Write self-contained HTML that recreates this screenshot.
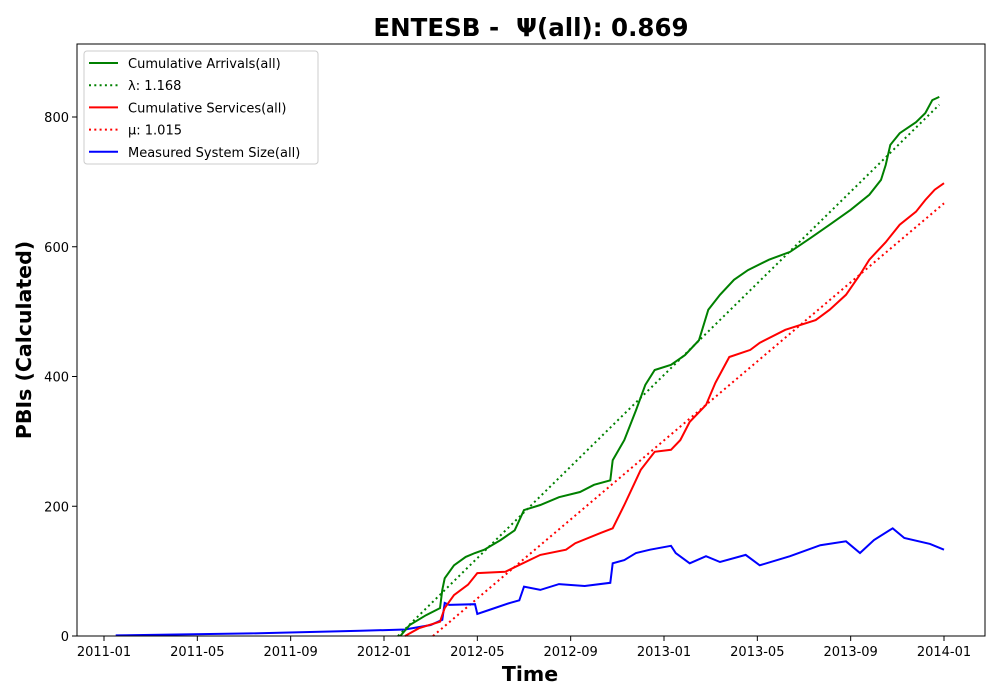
<!DOCTYPE html>
<html><head><meta charset="utf-8"><style>
html,body{margin:0;padding:0;background:#fff;}
svg{display:block;font-family:"DejaVu Sans","Liberation Sans",sans-serif;}
</style></head><body>
<svg id="chart" width="1000" height="700">
<text x="531" y="36" text-anchor="middle" font-size="24.5" font-weight="bold">ENTESB -&#160; Ψ(all): 0.869</text>
<g id="plot"></g>
<rect x="77" y="44" width="908" height="592" fill="none" stroke="#000" stroke-width="1"/>
<g id="axes"></g>
<text x="530" y="681" text-anchor="middle" font-size="20.5" font-weight="bold">Time</text>
<text transform="translate(31,340) rotate(-90)" text-anchor="middle" font-size="20.5" font-weight="bold">PBIs (Calculated)</text>
<g id="legend">
<rect x="84" y="51" width="234" height="113" rx="3" fill="#fff" fill-opacity="0.8" stroke="#ccc"/>
</g>
</svg>
<script>
// months since 2011-01
const xTickLabels = ["2011-01","2011-05","2011-09","2012-01","2012-05","2012-09","2013-01","2013-05","2013-09","2014-01"];
const xTickMonths = [0,4,8,12,16,20,24,28,32,36];
const yTicks = [0,200,400,600,800];
const arrM = [12.7,13.1,13.8,14.4,14.5,14.6,15.0,15.5,15.9,16.3,17.0,17.6,18.0,18.7,19.5,20.4,21.0,21.7,21.8,22.3,22.8,23.2,23.6,24.3,24.9,25.5,25.9,26.4,27.0,27.6,28.5,29.4,30.3,31.1,32.0,32.8,33.3,33.5,33.7,34.1,34.8,35.2,35.5,35.8];
const arrV = [0,17,32,43,71,89,109,122,128,133,148,163,194,202,214,222,233,240,271,302,348,387,410,418,433,456,503,526,549,564,580,592,614,634,657,680,703,726,757,775,792,806,826,831];
const srvM = [12.9,13.5,14.4,14.6,15.0,15.6,16.0,17.2,17.6,18.7,19.8,20.2,21.3,21.8,22.3,23.0,23.6,24.3,24.7,25.1,25.8,26.2,26.8,27.7,28.1,29.2,30.5,31.1,31.8,32.4,32.8,33.5,34.1,34.8,35.2,35.6,36.0];
const srvV = [0,12,22,43,63,79,97,99,106,125,133,143,159,166,202,256,284,287,302,330,356,390,430,441,452,472,487,503,526,557,580,607,634,654,672,688,698];
const sysM = [0.5,6.3,11.0,12.9,14.0,14.5,14.6,14.8,15.9,16.0,16.5,17.4,17.8,18.0,18.7,19.5,20.6,21.7,21.8,22.3,22.8,23.4,24.3,24.5,25.1,25.8,26.4,27.5,28.1,29.4,30.7,31.8,32.4,33.0,33.8,34.3,35.4,36.0];
const sysV = [1,4,8,10,17,25,51,48,49,34,40,51,55,76,71,80,77,82,112,117,128,133,139,128,112,123,114,125,109,123,140,146,128,148,166,151,142,133];
const lambdaM = [12.6,35.8];
const lambdaV = [0,819];
const muM = [14.1,36.0];
const muV = [0,667];

const NS="http://www.w3.org/2000/svg";
const X = m => 104 + m*(840/36);
const Y = v => 636 - v*(519/800);
function el(tag, attrs, parent){const e=document.createElementNS(NS,tag);for(const k in attrs)e.setAttribute(k,attrs[k]);parent.appendChild(e);return e;}
const plot=document.getElementById('plot'), axes=document.getElementById('axes'), legend=document.getElementById('legend');
function line(ms,vs,color,dash,name){
  const d=ms.map((m,i)=>(i?'L':'M')+X(m).toFixed(1)+','+Y(vs[i]).toFixed(1)).join('');
  const p=el('path',{d:d,fill:'none',stroke:color,'stroke-width':2,'stroke-dasharray':dash||'none'},plot);
  
  
}
line(lambdaM,lambdaV,'#008000','2,3.3','lambda-fit-line');
line(muM,muV,'#ff0000','2,3.3','mu-fit-line');
line(sysM,sysV,'#0000ff',null,'system-size-line');
line(srvM,srvV,'#ff0000',null,'cumulative-services-line');
line(arrM,arrV,'#008000',null,'cumulative-arrivals-line');
xTickMonths.forEach((m,i)=>{
  el('line',{x1:X(m),x2:X(m),y1:636,y2:641,stroke:'#000'},axes);
  const t=el('text',{x:X(m),y:656,'text-anchor':'middle','font-size':13},axes);
  t.textContent=xTickLabels[i];
  
  
});
yTicks.forEach(v=>{
  el('line',{x1:72,x2:77,y1:Y(v),y2:Y(v),stroke:'#000'},axes);
  const t=el('text',{x:69,y:Y(v)+5,'text-anchor':'end','font-size':13},axes);
  t.textContent=v;
  
  
});
const leg=[["Cumulative Arrivals(all)","#008000",null],["λ: 1.168","#008000","2,3.3"],["Cumulative Services(all)","#ff0000",null],["μ: 1.015","#ff0000","2,3.3"],["Measured System Size(all)","#0000ff",null]];
leg.forEach((e,i)=>{
  const y=63+i*22.2;
  el('line',{x1:89,x2:118,y1:y,y2:y,stroke:e[1],'stroke-width':2,'stroke-dasharray':e[2]||'none'},legend);
  const t=el('text',{x:128,y:y+5,'font-size':13},legend);
  t.textContent=e[0];
  
  
});
</script>
</body></html>
